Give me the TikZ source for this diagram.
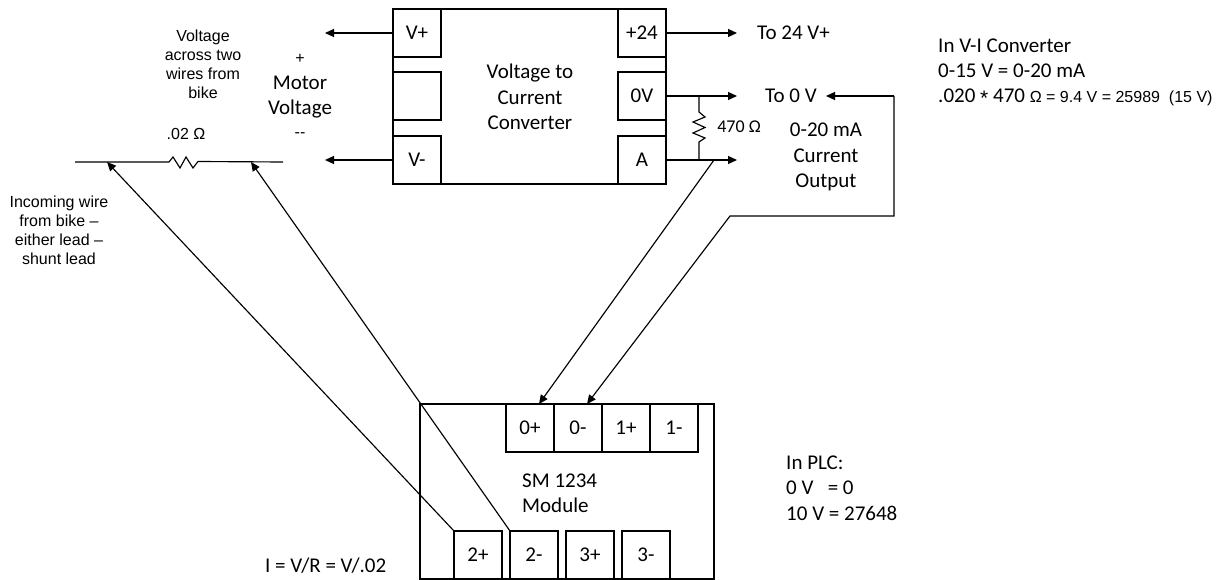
\documentclass[tikz,border=0pt]{standalone}
\usepackage{fontspec}
\setmainfont{Carlito}
\newfontfamily\arialf{Liberation Sans}
\usetikzlibrary{arrows.meta}
\tikzset{
 box/.style={draw=black,line width=1.2pt,fill=white,minimum width=48pt,minimum height=48pt,inner sep=0pt,outer sep=0pt,font=\fontsize{21}{25}\selectfont},
 wire/.style={draw=black,line width=1.3pt},
 thin wire/.style={draw=black,line width=1.15pt},
 tip/.style={-{Triangle[length=9pt,width=8pt]}},
 lab/.style={inner sep=0pt,align=center,font=\fontsize{21}{25.3}\selectfont},
 lableft/.style={inner sep=0pt,align=left,anchor=west,font=\fontsize{21}{25.3}\selectfont},
 small/.style={inner sep=0pt,align=center,font=\arialf\fontsize{16}{19}\selectfont},
}
\begin{document}
\begin{tikzpicture}[x=1pt,y=-1pt]
\useasboundingbox (0,0) rectangle (1225,580);
% converter
\node[box,minimum width=273pt,minimum height=175pt] (conv) at (529.5,96.5) {};
\node[box] (vp) at (417,33) {V+};
\node[box] (vmid) at (417,96) {};
\node[box] (vm) at (417,160) {V-};
\node[box] (p24) at (642,33) {+24};
\node[box] (ov) at (642,96) {0V};
\node[box] (a) at (642,160) {A};
\node[lab] (convt) at (530,97) {Voltage to\\Current\\Converter};
% free ends
\coordinate (vpe) at (325,33);
\coordinate (vme) at (325,160);
\coordinate (p24e) at (737,33);
\coordinate (ove) at (737,96);
\coordinate (ae) at (737,160);
\draw[wire,tip] (vp.west) -- (vpe);
\draw[wire,tip] (vm.west) -- (vme);
\draw[wire,tip] (p24.east) -- (p24e);
\draw[wire,tip] (ov.east) -- (ove);
\draw[wire,tip] (a.east) -- (ae);
% 470 resistor
\coordinate (rt) at (699,96);
\coordinate (rb) at (699,160);
\draw[thin wire,line join=miter] (rt) -- (699,112) -- (705,117) -- (693,122) -- (705,127.5) -- (693,133) -- (705,138) -- (699,142) -- (rb);
\node[inner sep=0pt,font=\fontsize{18}{22}\selectfont] (r470) at (739,127) {470 Ω};
% right labels
\node[lableft] (to24) at (757,33) {To 24 V+};
\node[lableft] (to0) at (765,96) {To 0 V};
\node[lab] (cur) at (826,157) {0-20 mA\\Current\\Output};
% module
\node[box,minimum width=294pt,minimum height=175pt] (mod) at (567,491.5) {};
\node[box] (m0p) at (530,428) {0+};
\node[box] (m0m) at (578,428) {0-};
\node[box] (m1p) at (626,428) {1+};
\node[box] (m1m) at (674,428) {1-};
\node[box] (m2p) at (478,555) {2+};
\node[box] (m2m) at (534,555) {2-};
\node[box] (m3p) at (590,555) {3+};
\node[box] (m3m) at (646,555) {3-};
\node[lableft] (smt) at (522,493.5) {SM 1234\\Module};
% connectors
\coordinate (t0p) at (539,404);
\coordinate (t0m) at (587,404);
\coordinate (s0p) at (714,160);
\coordinate (c1) at (894,96);
\coordinate (c2) at (894,216);
\coordinate (c3) at (730,216);
\coordinate (to0e) at (826,96);
\draw[thin wire,tip] (s0p) -- (t0p);
\draw[wire,tip] (c1) -- (to0e);
\draw[thin wire,tip] (c1) -- (c2) -- (c3) -- (t0m);
% shunt
\coordinate (sl) at (75,162);
\coordinate (sr) at (283,162);
\coordinate (tl) at (107,162);
\coordinate (tr) at (251,162);
\draw[thin wire] (sl) -- (169,162) -- (173,157) -- (180,168) -- (186,157) -- (193,168) -- (198,161.5) -- (sr);
\draw[thin wire,tip] (m2p.north west) -- (tl);
\draw[thin wire,tip] (m2m.north west) -- (tr);
% left labels
\node[small] (vacross) at (203,64) {Voltage\\across two\\wires from\\bike};
\node[small] (inc) at (59,230) {Incoming wire\\from bike –\\either lead –\\shunt lead};
\node[small] (sh) at (186,134) {.02 Ω};
\node[small] (plus) at (300,59) {+};
\node[lab] (mot) at (300,97) {Motor\\Voltage};
\node[small] (dash) at (300,135) {--};
% notes
\node[lableft] (conv note) at (938,72.5) {In V-I Converter\\0-15 V = 0-20 mA\\.020 {\arialf\lower3pt\hbox{*}} 470 {\arialf\fontsize{16}{19}\selectfont Ω = 9.4 V = 25989\ \ (15 V)}};
\node[lableft] (plc) at (786,488) {In PLC:\\0 V\ \ \ = 0\\10 V = 27648};
\node[lableft] (ohm) at (265,566) {I = V/R = V/.02};
\end{tikzpicture}
\end{document}
